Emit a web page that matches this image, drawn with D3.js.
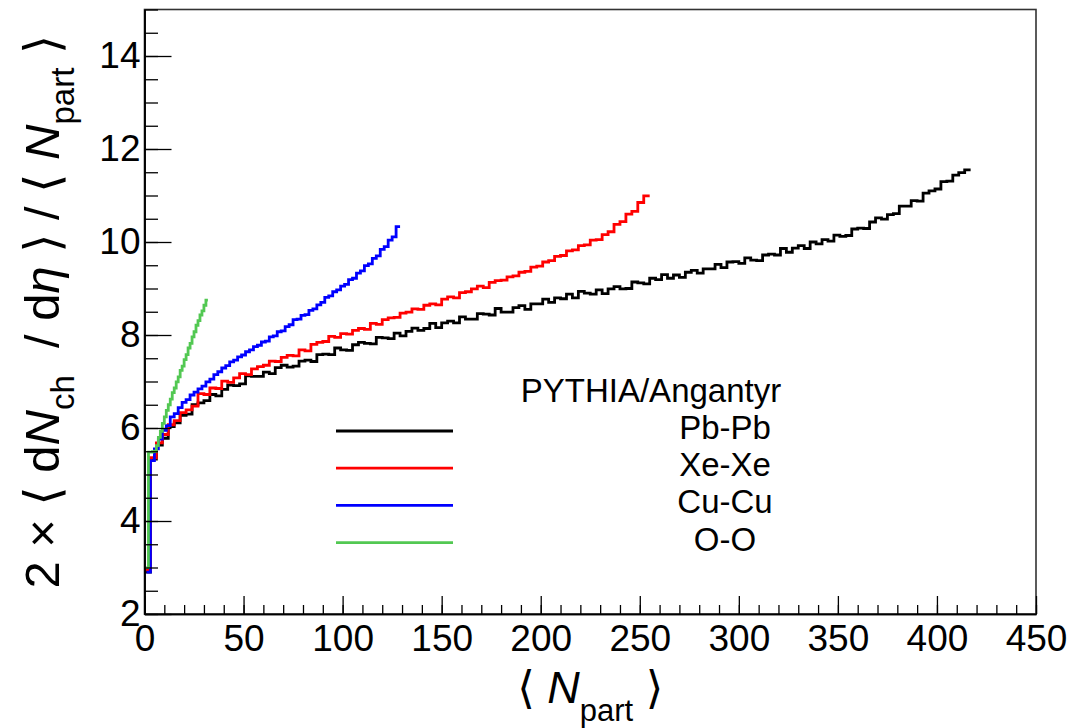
<!DOCTYPE html>
<html>
<head>
<meta charset="utf-8">
<script src="https://cdn.jsdelivr.net/npm/d3@7"></script>
<style>
  html, body { margin: 0; padding: 0; background: #fff; }
  svg { display: block; }
  text { font-family: "Liberation Sans", Arial, Helvetica, sans-serif; fill: #000; }
</style>
</head>
<body>
<svg id="chart" width="1074" height="728"></svg>
<script>
// Charged-particle multiplicity per participant pair vs <Npart>, PYTHIA/Angantyr

// Histogram binning (lower edge of first bin and bin width, in Npart units)
const pbpbStart = 0, pbpbWidth = 3;
const xexeStart = 0, xexeWidth = 3;
const cucuStart = 1, cucuWidth = 2;
const ooStart = 1, ooWidth = 1;

// Pb-Pb bin contents
const pbpbValues = [
  2.90, 5.33, 5.63, 5.78, 6.03, 6.11, 6.27, 6.30, 6.50, 6.54,
  6.59, 6.72, 6.69, 6.83, 6.92, 6.91, 6.95, 7.12, 7.11, 7.11,
  7.20, 7.17, 7.30, 7.35, 7.31, 7.33, 7.44, 7.46, 7.43, 7.58,
  7.59, 7.58, 7.72, 7.68, 7.67, 7.79, 7.84, 7.82, 7.81, 7.95,
  7.94, 7.92, 8.04, 7.98, 8.08, 8.15, 8.10, 8.14, 8.25, 8.16,
  8.26, 8.30, 8.26, 8.39, 8.34, 8.34, 8.46, 8.45, 8.43, 8.57,
  8.49, 8.49, 8.59, 8.63, 8.55, 8.67, 8.67, 8.77, 8.70, 8.80,
  8.78, 8.88, 8.80, 8.94, 8.90, 8.88, 8.97, 8.89, 8.99, 9.04,
  8.99, 9.00, 9.14, 9.12, 9.10, 9.22, 9.19, 9.30, 9.22, 9.29,
  9.24, 9.35, 9.39, 9.33, 9.42, 9.42, 9.52, 9.45, 9.57, 9.58,
  9.54, 9.66, 9.61, 9.60, 9.72, 9.74, 9.72, 9.86, 9.78, 9.87,
  9.92, 9.86, 10.00, 9.96, 10.05, 10.02, 10.15, 10.12, 10.14, 10.28,
  10.30, 10.29, 10.43, 10.52, 10.49, 10.59, 10.61, 10.77, 10.77, 10.89,
  10.88, 11.05, 11.10, 11.14, 11.30, 11.31, 11.44, 11.49, 11.55
];

// Xe-Xe bin contents
const xexeValues = [
  2.95, 5.36, 5.68, 5.86, 6.07, 6.16, 6.33, 6.39, 6.47, 6.74,
  6.72, 6.86, 6.85, 7.01, 6.98, 7.08, 7.17, 7.15, 7.27, 7.32,
  7.35, 7.44, 7.43, 7.52, 7.56, 7.55, 7.68, 7.66, 7.80, 7.84,
  7.86, 7.97, 7.95, 8.03, 8.02, 8.10, 8.14, 8.12, 8.25, 8.23,
  8.33, 8.37, 8.38, 8.47, 8.49, 8.56, 8.55, 8.64, 8.67, 8.65,
  8.77, 8.82, 8.80, 8.91, 8.93, 8.99, 9.05, 9.02, 9.13, 9.17,
  9.18, 9.25, 9.27, 9.35, 9.37, 9.46, 9.48, 9.57, 9.60, 9.69,
  9.71, 9.81, 9.83, 9.92, 9.94, 10.04, 10.05, 10.16, 10.22, 10.38,
  10.44, 10.60, 10.66, 10.85, 10.99
];

// Cu-Cu bin contents
const cucuValues = [
  2.90, 5.30, 5.55, 5.76, 5.95, 6.05, 6.24, 6.31, 6.44, 6.55,
  6.61, 6.71, 6.77, 6.84, 6.90, 6.99, 7.05, 7.15, 7.21, 7.29,
  7.34, 7.42, 7.46, 7.53, 7.57, 7.64, 7.68, 7.75, 7.78, 7.85,
  7.87, 7.96, 7.98, 8.07, 8.09, 8.18, 8.22, 8.33, 8.34, 8.42,
  8.44, 8.53, 8.56, 8.65, 8.70, 8.81, 8.84, 8.93, 8.97, 9.05,
  9.09, 9.19, 9.22, 9.33, 9.38, 9.49, 9.53, 9.65, 9.70, 9.84,
  9.90, 10.04, 10.11, 10.33
];

// O-O bin contents
const ooValues = [
  3.00, 5.48, 5.48, 5.49, 5.50, 5.62, 5.80, 5.93, 6.10, 6.24,
  6.38, 6.50, 6.62, 6.76, 6.86, 6.99, 7.10, 7.24, 7.33, 7.47,
  7.58, 7.72, 7.82, 7.96, 8.07, 8.21, 8.31, 8.43, 8.52, 8.64,
  8.75
];

const seriesLabels = ["Pb-Pb", "Xe-Xe", "Cu-Cu", "O-O"];
const legendHeader = "PYTHIA/Angantyr";

// Axis ranges and labelled ticks
const xDomain = [0, 450];
const yDomain = [2, 15];
const xTickValues = [0, 50, 100, 150, 200, 250, 300, 350, 400, 450];
const yTickValues = [2, 4, 6, 8, 10, 12, 14];

// ---- drawing ----
const lineColors = ["#000000", "#ff0000", "#0000ff", "#52c852"];
const frame = { left: 144.5, right: 1036, top: 9.5, bottom: 614 };

const svg = d3.select("#chart");
const x = d3.scaleLinear().domain(xDomain).range([frame.left, frame.right]);
const y = d3.scaleLinear().domain(yDomain).range([frame.bottom, frame.top]);

// frame box
svg.append("rect")
  .attr("x", frame.left).attr("y", frame.top)
  .attr("width", frame.right - frame.left).attr("height", frame.bottom - frame.top)
  .attr("fill", "none").attr("stroke", "#333").attr("stroke-width", 1.6);

// histograms as step lines
const series = [
  { start: pbpbStart, width: pbpbWidth, values: pbpbValues },
  { start: xexeStart, width: xexeWidth, values: xexeValues },
  { start: cucuStart, width: cucuWidth, values: cucuValues },
  { start: ooStart, width: ooWidth, values: ooValues }
];

const stepLine = d3.line()
  .x(d => x(d[0]))
  .y(d => y(d[1]))
  .curve(d3.curveStepAfter);

const plot = svg.append("g");
series.forEach((s, k) => {
  const pts = s.values.map((v, i) => [s.start + i * s.width, v]);
  pts.push([s.start + s.values.length * s.width, s.values[s.values.length - 1]]);
  plot.append("path")
    .datum(pts)
    .attr("d", stepLine)
    .attr("fill", "none")
    .attr("stroke", lineColors[k])
    .attr("stroke-width", 2.8)
    .attr("stroke-linejoin", "miter");
});

// axes
const tickFont = 37;
const yMinor = svg.append("g").attr("transform", `translate(${frame.left},0)`)
  .call(d3.axisLeft(y).tickValues(d3.range(yDomain[0], yDomain[1] + 0.001, 0.5))
    .tickSizeInner(-13.5).tickSizeOuter(0).tickFormat(""));
const yMajor = svg.append("g").attr("transform", `translate(${frame.left},0)`)
  .call(d3.axisLeft(y).tickValues(yTickValues)
    .tickSizeInner(-27).tickSizeOuter(0).tickPadding(4).tickFormat(d3.format("d")));
const xMinor = svg.append("g").attr("transform", `translate(0,${frame.bottom})`)
  .call(d3.axisBottom(x).tickValues(d3.range(xDomain[0], xDomain[1] + 0.001, 10))
    .tickSizeInner(-9).tickSizeOuter(0).tickFormat(""));
const xMajor = svg.append("g").attr("transform", `translate(0,${frame.bottom})`)
  .call(d3.axisBottom(x).tickValues(xTickValues)
    .tickSizeInner(-18).tickSizeOuter(0).tickPadding(11).tickFormat(d3.format("d")));

[yMinor, yMajor, xMinor, xMajor].forEach(g => {
  g.select(".domain").attr("stroke", "#000").attr("stroke-width", 1.6);
  g.selectAll(".tick line").attr("stroke", "#000").attr("stroke-width", 1.3);
  g.selectAll("text")
    .attr("font-family", "'Liberation Sans', Arial, Helvetica, sans-serif")
    .attr("font-size", tickFont).attr("fill", "#000");
});

// axis titles
const bracketFont = "'DejaVu Sans', sans-serif";

const xt = svg.append("text")
  .attr("x", (frame.left + frame.right) / 2)
  .attr("y", 703)
  .attr("text-anchor", "middle")
  .attr("font-size", 45);
xt.append("tspan").attr("font-family", bracketFont).text("\u27E8");
xt.append("tspan").text("\u00A0");
xt.append("tspan").attr("font-style", "italic").text("N");
xt.append("tspan").attr("font-size", 31).attr("dy", 18).text("part");
xt.append("tspan").attr("dy", -18).text("\u00A0");
xt.append("tspan").attr("font-family", bracketFont).text("\u27E9");

const yt = svg.append("text")
  .attr("transform", `translate(59,${(frame.top + frame.bottom) / 2}) rotate(-90)`)
  .attr("text-anchor", "middle")
  .attr("font-size", 49);
yt.append("tspan").text("2 \u00D7 ");
yt.append("tspan").attr("font-family", bracketFont).text("\u27E8");
yt.append("tspan").text("\u00A0d");
yt.append("tspan").attr("font-style", "italic").text("N");
yt.append("tspan").attr("font-size", 33).attr("dy", 15).text("ch");
yt.append("tspan").attr("dy", -15).text("\u00A0\u00A0/ d");
yt.append("tspan").attr("font-style", "italic").text("\u03B7");
yt.append("tspan").text("\u00A0");
yt.append("tspan").attr("font-family", bracketFont).text("\u27E9");
yt.append("tspan").text("\u00A0/\u00A0");
yt.append("tspan").attr("font-family", bracketFont).text("\u27E8");
yt.append("tspan").text("\u00A0");
yt.append("tspan").attr("font-style", "italic").text("N");
yt.append("tspan").attr("font-size", 33).attr("dy", 15).text("part");
yt.append("tspan").attr("dy", -15).text("\u00A0");
yt.append("tspan").attr("font-family", bracketFont).text("\u27E9");

// legend
const legend = { lineX0: 336, lineX1: 453, textX: 725, headerX: 651, headerY: 402, firstY: 439, step: 37.2 };
const lg = svg.append("g");
lg.append("text")
  .attr("x", legend.headerX).attr("y", legend.headerY)
  .attr("text-anchor", "middle").attr("font-size", 33)
  .text(legendHeader);
seriesLabels.forEach((name, k) => {
  const by = legend.firstY + k * legend.step;
  lg.append("line")
    .attr("x1", legend.lineX0).attr("x2", legend.lineX1)
    .attr("y1", by - 8).attr("y2", by - 8)
    .attr("stroke", lineColors[k]).attr("stroke-width", 2.8);
  lg.append("text")
    .attr("x", legend.textX).attr("y", by)
    .attr("text-anchor", "middle").attr("font-size", 33)
    .text(name);
});
</script>
</body>
</html>
